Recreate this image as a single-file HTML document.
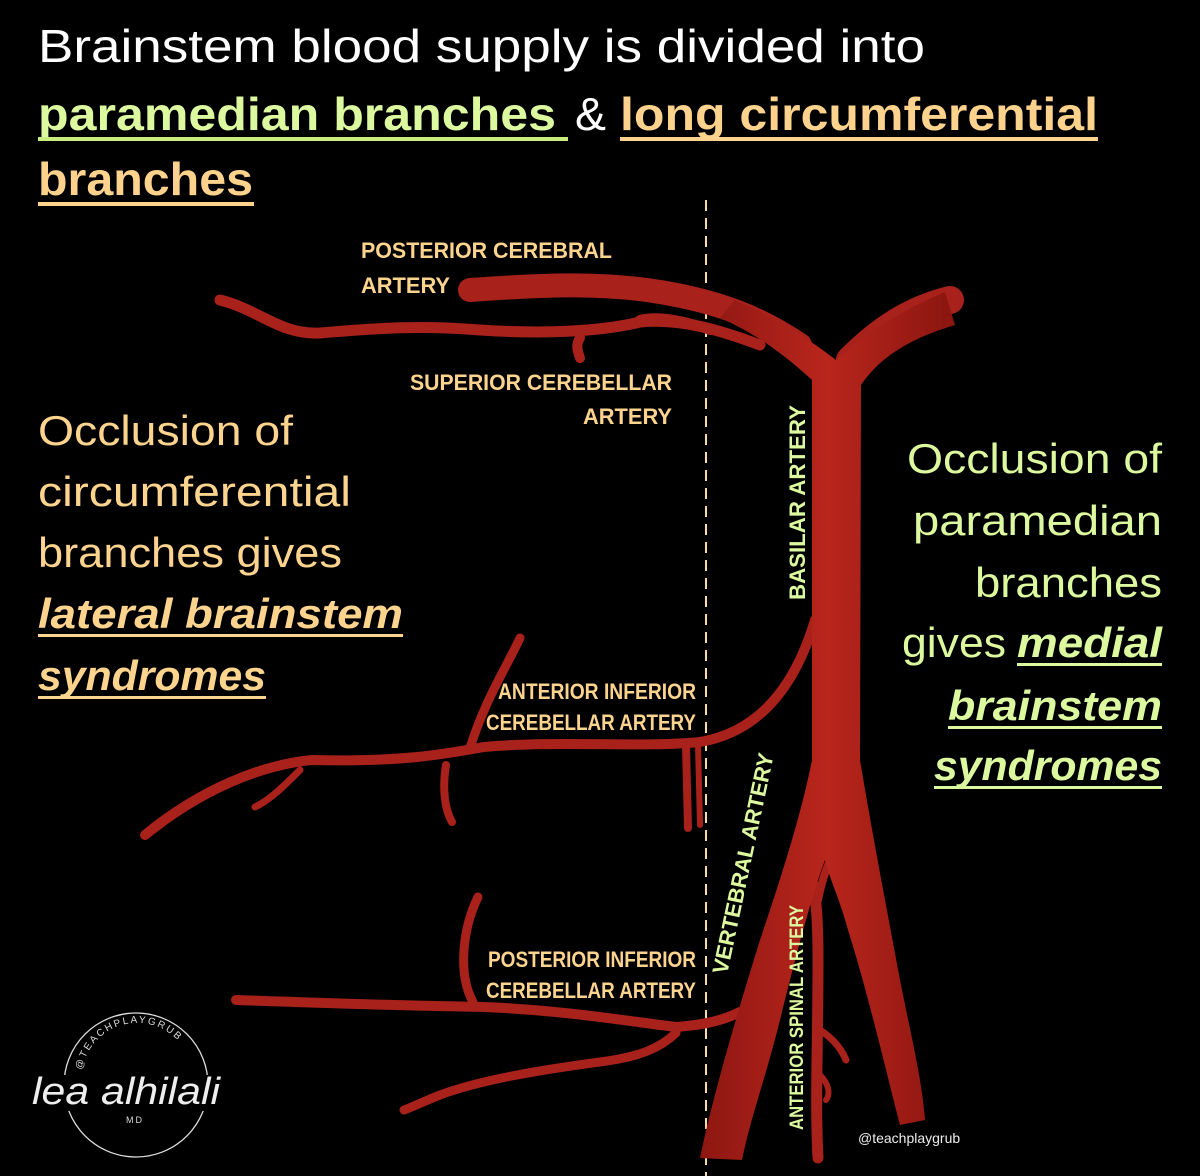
<!DOCTYPE html>
<html><head><meta charset="utf-8"><style>
html,body{margin:0;padding:0;background:#000;}
svg{display:block;}
text{font-family:"Liberation Sans",sans-serif;}
</style></head><body>
<svg width="1200" height="1176" viewBox="0 0 1200 1176" xmlns="http://www.w3.org/2000/svg">
<defs>
<linearGradient id="g" x1="0" x2="1" y1="0" y2="0">
<stop offset="0" stop-color="#8e1712"/><stop offset="0.5" stop-color="#b8261c"/><stop offset="1" stop-color="#8a1510"/>
</linearGradient>
</defs>
<rect width="1200" height="1176" fill="#000"/>

<!-- title -->
<text x="38" y="62" font-size="46" fill="#fff" textLength="887" lengthAdjust="spacingAndGlyphs">Brainstem blood supply is divided into</text>
<text x="38" y="130" font-size="46" font-weight="bold" fill="#ddf99f" textLength="518" lengthAdjust="spacingAndGlyphs">paramedian branches</text>
<rect x="38" y="137" width="530" height="4" fill="#c9ee7e"/>
<text x="575" y="130" font-size="46" fill="#fff" textLength="31" lengthAdjust="spacingAndGlyphs">&amp;</text>
<text x="620" y="130" font-size="46" font-weight="bold" fill="#fdd28c" textLength="478" lengthAdjust="spacingAndGlyphs">long circumferential</text>
<rect x="620" y="137" width="478" height="4" fill="#fdd28c"/>
<text x="38" y="195" font-size="46" font-weight="bold" fill="#fdd28c" textLength="215" lengthAdjust="spacingAndGlyphs">branches</text>
<rect x="38" y="202" width="216" height="4" fill="#fdd28c"/>

<!-- dashed midline -->
<line x1="706" y1="200" x2="706" y2="1176" stroke="#f8dba0" stroke-width="2" stroke-dasharray="11,7"/>

<!-- arteries -->
<g fill="none" stroke="#a8211a" stroke-linecap="round" stroke-linejoin="round">
 <!-- PCA band -->
 <path d="M470 290 C540 285 600 282 660 292 C720 302 760 318 800 345" stroke-width="24"/>
 <!-- right PCA -->
 <path d="M850 360 C880 330 910 310 950 300" stroke-width="28"/>
 <!-- SCA -->
 <path d="M220 300 C260 310 280 335 320 333 C380 328 420 325 480 330 C540 334 600 332 640 322 C680 318 720 330 760 345" stroke-width="11"/>
 <path d="M580 338 C575 345 578 352 580 358" stroke-width="10"/>
 <path d="M640 320 C660 315 690 322 710 330" stroke-width="10"/>
 <!-- AICA -->
 <path d="M815 620 C800 670 770 730 700 742 C640 748 560 740 484 747 C440 755 400 762 312 760 C260 765 200 790 145 835" stroke-width="10"/>
 <path d="M520 638 C505 670 485 700 470 748" stroke-width="9"/>
 <path d="M300 770 C285 785 270 800 255 807" stroke-width="7"/>
 <path d="M446 765 C442 790 445 810 452 822" stroke-width="8"/>
 <path d="M686 745 L688 828" stroke-width="8"/>
 <path d="M698 745 L700 825" stroke-width="6"/>
 <!-- PICA -->
 <path d="M236 1000 C320 1003 420 1006 484 1007 C560 1010 620 1020 676 1027 C700 1025 720 1022 740 1012" stroke-width="10"/>
 <path d="M478 897 C462 930 458 975 473 1002" stroke-width="9"/>
 <path d="M676 1033 C660 1048 640 1057 600 1062 C540 1070 480 1080 440 1095 C420 1103 410 1108 404 1110" stroke-width="9"/>
 <!-- anterior spinal -->
 <path d="M800 850 C815 880 818 900 818 960 C818 1050 815 1100 818 1158" stroke-width="11"/>
 <path d="M818 900 C822 880 826 870 830 860" stroke-width="8"/>
 <path d="M820 1030 C835 1040 842 1050 846 1060" stroke-width="7"/>
 <path d="M820 1075 C830 1085 830 1095 826 1100" stroke-width="6"/>
</g>
<!-- basilar + vertebrals as filled shapes -->
<path d="M812 380 C790 360 760 335 720 318 L735 300 C780 320 810 340 836 360 C860 340 890 315 945 292 L955 325 C905 340 878 360 861 385 L860 760
 C870 820 885 900 900 980 C912 1040 922 1080 925 1120 L900 1125 C888 1080 870 1000 848 930 C840 900 830 880 825 860
 C810 900 795 960 780 1020 C765 1080 750 1120 742 1160 L700 1158 C712 1100 735 1020 760 940 C780 880 800 820 812 760 Z" fill="url(#g)"/>

<!-- artery labels -->
<g font-weight="bold" fill="#fcd48e" font-size="22">
 <text x="361" y="258" textLength="251" lengthAdjust="spacingAndGlyphs">POSTERIOR CEREBRAL</text>
 <text x="361" y="293" textLength="89" lengthAdjust="spacingAndGlyphs">ARTERY</text>
 <text x="410" y="390" textLength="262" lengthAdjust="spacingAndGlyphs">SUPERIOR CEREBELLAR</text>
 <text x="583" y="424" textLength="89" lengthAdjust="spacingAndGlyphs">ARTERY</text>
 <text x="498" y="699" textLength="198" lengthAdjust="spacingAndGlyphs">ANTERIOR INFERIOR</text>
 <text x="486" y="730" textLength="210" lengthAdjust="spacingAndGlyphs">CEREBELLAR ARTERY</text>
 <text x="488" y="967" textLength="208" lengthAdjust="spacingAndGlyphs">POSTERIOR INFERIOR</text>
 <text x="486" y="998" textLength="210" lengthAdjust="spacingAndGlyphs">CEREBELLAR ARTERY</text>
</g>
<g font-weight="bold" fill="#ddf99f" font-size="22">
 <text transform="translate(805,600) rotate(-90)" textLength="195" lengthAdjust="spacingAndGlyphs">BASILAR ARTERY</text>
 <text transform="translate(727,975) rotate(-78)" textLength="225" lengthAdjust="spacingAndGlyphs">VERTEBRAL ARTERY</text>
 <text transform="translate(803,1130) rotate(-90)" font-size="19" textLength="225" lengthAdjust="spacingAndGlyphs">ANTERIOR SPINAL ARTERY</text>
</g>

<!-- left text -->
<g fill="#fcd48e" font-size="42">
 <text x="38" y="445" textLength="255" lengthAdjust="spacingAndGlyphs">Occlusion of</text>
 <text x="38" y="506" textLength="313" lengthAdjust="spacingAndGlyphs">circumferential</text>
 <text x="38" y="567" textLength="304" lengthAdjust="spacingAndGlyphs">branches gives</text>
 <text x="38" y="628" font-weight="bold" font-style="italic" textLength="365" lengthAdjust="spacingAndGlyphs">lateral brainstem</text>
 <rect x="38" y="634" width="365" height="3"/>
 <text x="38" y="690" font-weight="bold" font-style="italic" textLength="228" lengthAdjust="spacingAndGlyphs">syndromes</text>
 <rect x="38" y="696" width="228" height="3"/>
</g>
<!-- right text -->
<g fill="#ddf99f" font-size="42">
 <text x="907" y="473" textLength="255" lengthAdjust="spacingAndGlyphs">Occlusion of</text>
 <text x="913" y="535" textLength="249" lengthAdjust="spacingAndGlyphs">paramedian</text>
 <text x="975" y="597" textLength="187" lengthAdjust="spacingAndGlyphs">branches</text>
 <text x="902" y="657" textLength="104" lengthAdjust="spacingAndGlyphs">gives</text>
 <text x="1017" y="657" font-weight="bold" font-style="italic" textLength="145" lengthAdjust="spacingAndGlyphs">medial</text>
 <rect x="1017" y="663" width="145" height="3"/>
 <text x="948" y="720" font-weight="bold" font-style="italic" textLength="214" lengthAdjust="spacingAndGlyphs">brainstem</text>
 <rect x="948" y="726" width="214" height="3"/>
 <text x="934" y="780" font-weight="bold" font-style="italic" textLength="228" lengthAdjust="spacingAndGlyphs">syndromes</text>
 <rect x="934" y="786" width="228" height="3"/>
</g>

<!-- watermark -->
<text x="858" y="1143" font-size="14" fill="#eee">@teachplaygrub</text>

<!-- logo -->
<g fill="none" stroke="#ddd" stroke-width="1.3">
 <circle cx="136" cy="1085" r="72"/>
</g>
<defs><path id="arc" d="M82 1070 A56 56 0 0 1 190 1060"/></defs>
<text font-size="10" fill="#ddd" letter-spacing="2"><textPath href="#arc">@TEACHPLAYGRUB</textPath></text>
<rect x="30" y="1075" width="190" height="36" fill="#000"/>
<text x="32" y="1104" font-family="Liberation Serif,serif" font-style="italic" font-size="38" fill="#eee" textLength="188" lengthAdjust="spacingAndGlyphs">lea alhilali</text>
<text x="126" y="1123" font-size="9" fill="#ddd" letter-spacing="2">MD</text>
</svg>
</body></html>
